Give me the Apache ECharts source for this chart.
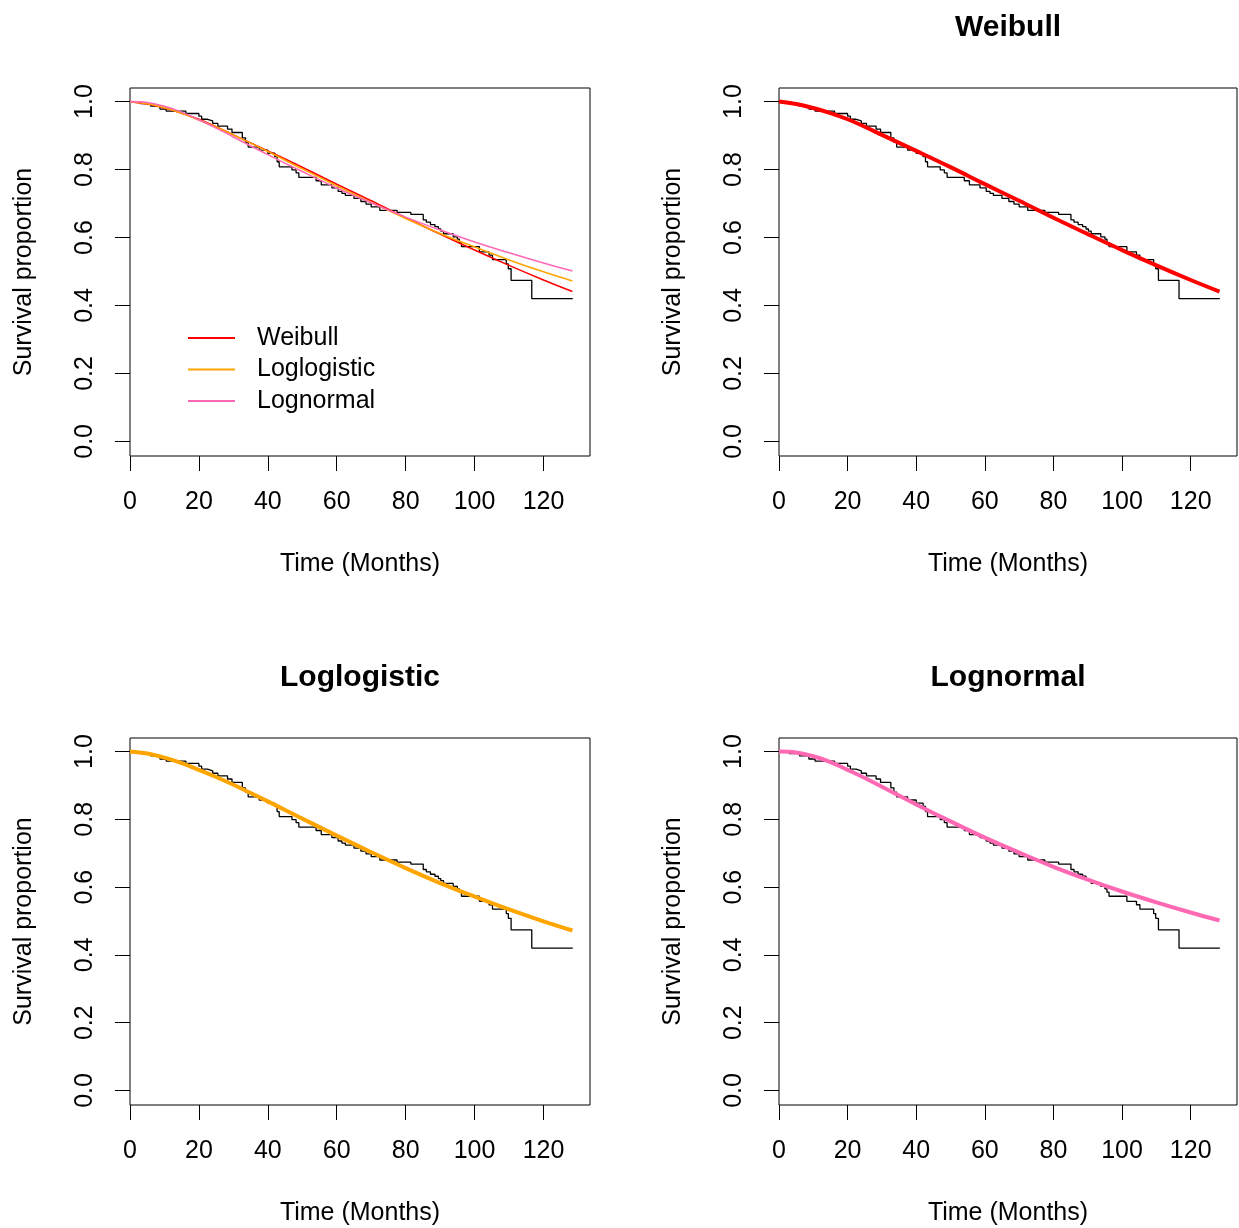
<!DOCTYPE html>
<html>
<head>
<meta charset="utf-8">
<script src="https://cdn.jsdelivr.net/npm/echarts@6/dist/echarts.min.js"></script>
<style>
html,body{margin:0;padding:0;background:#fff;}
#chart{width:1239px;height:1228px;}
</style>
</head>
<body>
<div id="chart"></div>
<script>
// ---- data ----
const timeTicks = [0, 20, 40, 60, 80, 100, 120];
const survTicks = [0, 0.2, 0.4, 0.6, 0.8, 1.0];

// Kaplan-Meier estimate (step points: time, survival after that time)
const kmTime = [0, 3, 6, 8.7, 10.5, 16.2, 20.0, 20.8, 22.5, 24.0, 25.5, 28.3, 29.6, 32.6, 33.5,
  34.3, 37.5, 40.0, 42.0, 42.7, 43.3, 47.0, 48.2, 49.0, 54.0, 55.5, 58.6, 60.4, 61.5, 62.5,
  65.0, 67.0, 68.5, 70.0, 72.5, 77.5, 81.5, 85.1, 86.0, 87.2, 88.5, 89.5, 90.2, 91.0, 93.8,
  95.0, 95.6, 96.2, 101.4, 104.2, 105.2, 109.2, 109.8, 110.6, 116.6, 128.5];
const kmSurv = [1.000, 0.994, 0.987, 0.978, 0.972, 0.965, 0.957, 0.948, 0.943, 0.936, 0.928, 0.919, 0.909, 0.893, 0.880,
  0.866, 0.857, 0.848, 0.838, 0.823, 0.808, 0.799, 0.790, 0.777, 0.767, 0.755, 0.746, 0.736, 0.730, 0.724,
  0.715, 0.706, 0.698, 0.690, 0.680, 0.674, 0.668, 0.652, 0.645, 0.638, 0.632, 0.625, 0.619, 0.611, 0.602,
  0.595, 0.585, 0.573, 0.558, 0.548, 0.535, 0.522, 0.508, 0.474, 0.420, 0.420];

// Fitted survival curves
const fitTime = [0, 5, 10, 15, 20, 25, 30, 40, 50, 60, 70, 80, 90, 100, 110, 120, 128.4];
const weibull = [1.000, 0.993, 0.981, 0.966, 0.948, 0.926, 0.902, 0.855, 0.807, 0.757, 0.708, 0.658, 0.610, 0.563, 0.518, 0.475, 0.441];
const loglogistic = [1.000, 0.994, 0.982, 0.966, 0.946, 0.925, 0.902, 0.853, 0.802, 0.752, 0.703, 0.656, 0.612, 0.572, 0.534, 0.499, 0.472];
const lognormal = [1.000, 0.9975, 0.986, 0.969, 0.946, 0.922, 0.896, 0.844, 0.794, 0.746, 0.702, 0.660, 0.622, 0.587, 0.555, 0.525, 0.5015];

const modelNames = ['Weibull', 'Loglogistic', 'Lognormal'];
const panelTitles = ['', 'Weibull', 'Loglogistic', 'Lognormal'];
const xTitle = 'Time (Months)';
const yTitle = 'Survival proportion';

// ---- build chart ----
const FONT = "'Liberation Sans', Arial, sans-serif";
const colors = ['#FF0000', '#FFA500', '#FF69B4'];
const fits = [weibull, loglogistic, lognormal];
const zip = (a, b) => a.map((v, i) => [v, b[i]]);

const grids = [
  {left: 130, top: 88, width: 460, height: 368},
  {left: 779, top: 88, width: 458, height: 368},
  {left: 130, top: 738, width: 460, height: 367},
  {left: 779, top: 738, width: 458, height: 367}
];

const xAxes = [], yAxes = [], series = [], graphics = [];
grids.forEach((g, i) => {
  g.show = true; g.borderColor = '#000'; g.borderWidth = 1; g.backgroundColor = 'transparent';
  xAxes.push({
    type: 'value', gridIndex: i, min: 0, max: 133.5, position: 'bottom',
    name: xTitle, nameLocation: 'middle', nameGap: 96,
    nameTextStyle: {fontSize: 25, fontFamily: FONT, color: '#000'},
    axisLine: {show: false, onZero: false},
    axisTick: {show: true, inside: false, customValues: timeTicks, length: 15, lineStyle: {color: '#000', width: 1}},
    axisLabel: {customValues: timeTicks, margin: 34, fontSize: 25, fontFamily: FONT, color: '#000'},
    splitLine: {show: false}
  });
  yAxes.push({
    type: 'value', gridIndex: i, min: -0.043, max: 1.04, position: 'left',
    name: yTitle, nameLocation: 'middle', nameGap: 93, nameRotate: 90,
    nameTextStyle: {fontSize: 25, fontFamily: FONT, color: '#000'},
    axisLine: {show: false, onZero: false},
    axisTick: {show: true, inside: false, customValues: survTicks, length: 15, lineStyle: {color: '#000', width: 1}},
    axisLabel: {customValues: survTicks, rotate: 90, margin: 32, fontSize: 25, fontFamily: FONT, color: '#000',
      formatter: v => v.toFixed(1)},
    splitLine: {show: false}
  });
  series.push({
    name: 'KM' + i, type: 'line', xAxisIndex: i, yAxisIndex: i, step: 'end',
    data: zip(kmTime, kmSurv), symbol: 'none', silent: true,
    lineStyle: {color: '#000', width: 1.3}, z: 2
  });
  if (i === 0) {
    fits.forEach((f, k) => {
      series.push({
        name: modelNames[k], type: 'line', xAxisIndex: 0, yAxisIndex: 0,
        data: zip(fitTime, f), symbol: 'none', smooth: 0.4,
        color: colors[k], lineStyle: {color: colors[k], width: 1.6}, z: 3 + k
      });
    });
  } else {
    const k = i - 1;
    series.push({
      name: modelNames[k] + ' fit', type: 'line', xAxisIndex: i, yAxisIndex: i,
      data: zip(fitTime, fits[k]), symbol: 'none', smooth: 0.4,
      color: colors[k], lineStyle: {color: colors[k], width: 4}, z: 3
    });
    graphics.push({
      type: 'text', x: g.left + g.width / 2, y: g.top - 60,
      style: {text: panelTitles[i], textAlign: 'center', textVerticalAlign: 'middle',
        fontSize: 30, fontWeight: 'bold', fontFamily: FONT, fill: '#000'}
    });
  }
});

const chart = echarts.init(document.getElementById('chart'), null, {renderer: 'canvas'});
chart.setOption({
  animation: false,
  backgroundColor: '#fff',
  grid: grids,
  xAxis: xAxes,
  yAxis: yAxes,
  series: series,
  graphic: graphics,
  legend: {
    data: modelNames.map((n, k) => ({name: n, icon: 'rect', itemStyle: {color: colors[k]}})),
    orient: 'vertical', left: 183, top: 319, padding: 5,
    itemWidth: 47, itemHeight: 2, itemGap: 3.5, selectedMode: false,
    textStyle: {fontSize: 25, fontFamily: FONT, color: '#000', lineHeight: 28, padding: [0, 0, 0, 17]}
  }
});
</script>
</body>
</html>
